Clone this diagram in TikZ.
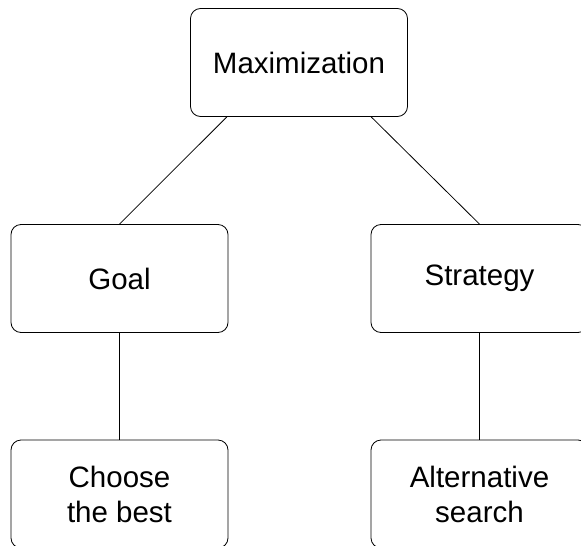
\documentclass[tikz,border=0pt]{standalone}
\usepackage{fontspec}
\setmainfont{Liberation Sans}
\usepackage{tikz}

\begin{document}
\begin{tikzpicture}[x=1pt,y=-1pt]
		\tikzset{box/.style = {draw, rounded corners=10pt, line width=0.8pt,
				minimum width=217pt, minimum height=108pt, align=center,
				font=\fontsize{29.5}{35}\selectfont}}
		\tikzset{edge/.style = {line width=0.8pt}}
		
		\clip (0,0) rectangle (581,546);
		
		\node[box]  (max)    at ( 299,  62.5) {Maximization};
		\node[box]  (goal)   at (119.5, 278.5) {Goal};
		\node[box]  (strat)  at (479.5, 278.5) {Strategy};
		\node[box]  (best)   at (119.5, 494) {Choose\\the best};
		\node[box]  (search) at (479.5, 494) {Alternative\\search};
		
		\draw[edge] (max.-143) to (goal.north);
		\draw[edge] (max.-37)  to (strat.north);
		\draw[edge] (goal)     to (best);
		\draw[edge] (strat)    to (search);
\end{tikzpicture}
\end{document}
